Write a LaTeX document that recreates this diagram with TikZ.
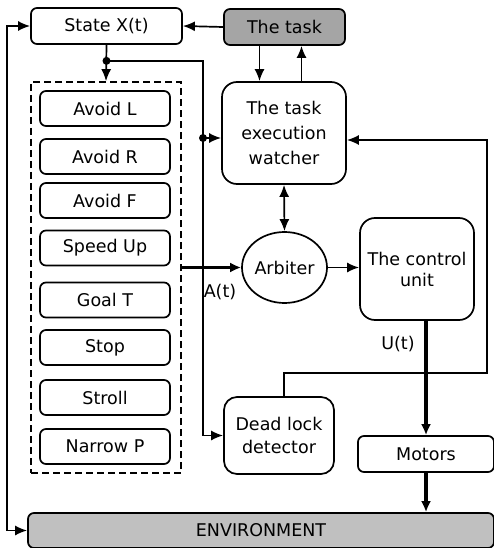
\documentclass[tikz,border=0pt]{standalone}
\usepackage{fontspec}
\setmainfont{DejaVu Sans}
\usetikzlibrary{arrows.meta,calc,shapes.geometric}
\definecolor{taskgray}{RGB}{165,165,165}
\definecolor{envgray}{RGB}{192,192,192}
\begin{document}
\begin{tikzpicture}[x=1pt,y=-1pt,
  font=\fontsize{17.5}{23}\selectfont,
  box/.style={draw, line width=1.7pt, rounded corners=6pt, inner sep=0pt, align=center},
  bigbox/.style={box, rounded corners=15pt},
  tip/.tip={Latex[length=12pt,width=10pt]},
  conn/.style={line width=1.7pt, -tip},
  biconn/.style={line width=1.7pt, tip-tip},
  thickconn/.style={line width=3.2pt, -{Latex[length=11pt,width=10pt]}},
  dot/.style={circle, fill, inner sep=0pt, minimum size=8pt}
]
\useasboundingbox (0,0) rectangle (494,548);
% nodes
\node[box, minimum width=151pt, minimum height=36pt] (state) at (106.5,26) {State X(t)};
\node[box, fill=taskgray, minimum width=121pt, minimum height=36pt] (task) at (284.5,27) {The task};
\node[draw, dash pattern=on 7pt off 4pt, line width=1.7pt, minimum width=150pt, minimum height=391pt, inner sep=0pt] (grp) at (106,277.5) {};
\node[box, minimum width=130pt, minimum height=35pt] (b1) at (105,108.5) {Avoid L};
\node[box, minimum width=130pt, minimum height=35pt] (b2) at (105,156.5) {Avoid R};
\node[box, minimum width=130pt, minimum height=35pt] (b3) at (105,200.5) {Avoid F};
\node[box, minimum width=130pt, minimum height=35pt] (b4) at (105,248) {Speed Up};
\node[box, minimum width=130pt, minimum height=35pt] (b5) at (105,300) {Goal T};
\node[box, minimum width=130pt, minimum height=35pt] (b6) at (105,347.5) {Stop};
\node[box, minimum width=130pt, minimum height=35pt] (b7) at (105,397.5) {Stroll};
\node[box, minimum width=130pt, minimum height=35pt] (b8) at (105,446.5) {Narrow P};
\node[bigbox, minimum width=124pt, minimum height=102pt, font=\fontsize{17.5}{25}\selectfont] (watcher) at (284,133) {The task\\execution\\watcher};
\node[ellipse, draw, line width=1.7pt, minimum width=85pt, minimum height=71pt, inner sep=0pt] (arbiter) at (284.5,267.5) {Arbiter};
\node[bigbox, minimum width=114pt, minimum height=102pt, font=\fontsize{17.5}{21}\selectfont] (control) at (417,269) {The control\\unit};
\node[box, rounded corners=13pt, minimum width=110pt, minimum height=77pt] (dead) at (279,435.5) {Dead lock\\detector};
\node[box, minimum width=136pt, minimum height=36pt] (motors) at (426,454) {Motors};
\node[box, fill=envgray, minimum width=466pt, minimum height=35pt] (env) at (261,530.5) {ENVIRONMENT};
\node (at) at (220,292) {A(t)};
\node (ut) at (398,344) {U(t)};
% coordinates
\coordinate (d1) at ($(state.south)+(0,16)$);
\coordinate (d2) at (203,138);
\coordinate (r1) at (487,373);
% connectors
\draw[biconn] (state.west) -- ++(-23,0) |- (env.west);
\draw[conn] (task.west) -- (state.east);
\draw[conn] (state.south) -- (grp.north);
\draw[conn] (d1) -| (d2) |- (dead.west);
\draw[conn] (d2) -- (d2 -| watcher.west);
\node[dot] (dot1) at (d1) {};
\node[dot] (dot2) at (d2) {};
\draw[conn] ([xshift=-25pt]task.south) -- ([xshift=-25pt]task.south |- watcher.north);
\draw[conn] ([xshift=17pt]task.south |- watcher.north) -- ([xshift=17pt]task.south);
\draw[biconn] (watcher.south) -- (arbiter.north);
\draw[thickconn] (grp.east |- arbiter.west) -- (arbiter.west);
\draw[conn] (arbiter.east) -- (arbiter.east -| control.west);
\draw[thickconn] (motors.north |- control.south) -- (motors.north);
\draw[thickconn] (motors.south) -- (motors.south |- env.north);
\draw[conn] ([xshift=5pt]dead.north) |- (r1) |- ([yshift=-7pt]watcher.east);
\end{tikzpicture}
\end{document}
